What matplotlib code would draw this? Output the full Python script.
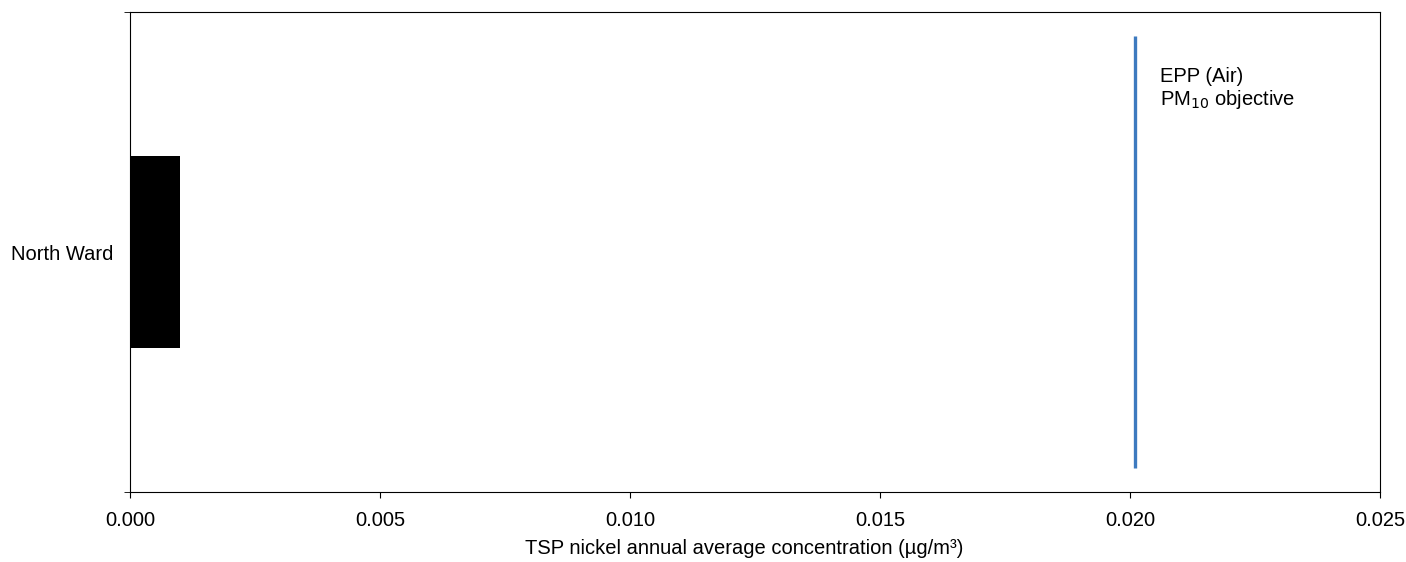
import numpy as np
import matplotlib.pyplot as plt

plt.rcParams['font.family'] = ['Liberation Sans', 'DejaVu Sans']
plt.rcParams['font.size'] = 14.5

sites = ['North Ward']
nickel = [0.001]
objective = 0.0201
objective_label = 'EPP (Air)\nPM$_{10}$ objective'
xticks = [0.0, 0.005, 0.010, 0.015, 0.020, 0.025]

fig = plt.figure(figsize=(14.06, 5.62), dpi=100)
ax = fig.add_axes([130 / 1406, 1 - 492 / 562, 1250 / 1406, 480 / 562])

ax.barh(sites, nickel, height=0.4, color='black')
ax.vlines(objective, -0.45, 0.45, color='#3d7abf', linewidth=2.4)
ax.text(0.0206, 0.385, objective_label, va='top', ha='left', fontsize=14.5,
        linespacing=1.1)

ax.set_xlim(0, 0.025)
ax.set_ylim(-0.5, 0.5)
ax.set_xticks(xticks)
ax.set_xticklabels([f'{t:.3f}' for t in xticks])
ax.set_yticks([-0.5, 0.5], minor=True)
ax.tick_params(axis='y', which='major', length=0, pad=12)
ax.tick_params(axis='y', which='minor', length=4)
ax.tick_params(axis='x', length=4, pad=10)
ax.set_xlabel('TSP nickel annual average concentration (µg/m³)', va='center')
ax.xaxis.set_label_coords(0.491, -57 / 480)

fig.savefig('out.png', dpi=100)
